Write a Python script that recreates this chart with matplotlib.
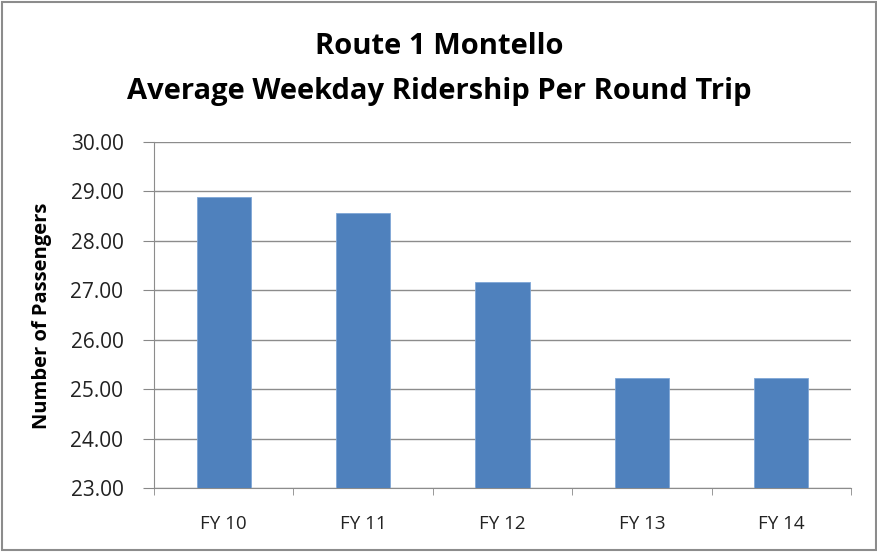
import matplotlib.pyplot as plt
from matplotlib.patches import Rectangle
import numpy as np

years = ['FY 10', 'FY 11', 'FY 12', 'FY 13', 'FY 14']
riders = [28.89, 28.57, 27.16, 25.22, 25.22]

plt.rcParams['font.family'] = ['Open Sans', 'DejaVu Sans']

fig = plt.figure(figsize=(8.78, 5.52), dpi=100)
ax = fig.add_axes([0.1754, 0.1154, 0.7938, 0.6274])

x = np.arange(len(years))
ax.bar(x, riders, width=0.39, color='#4f81bd', edgecolor='#7fa6d6', linewidth=0.6, zorder=3)

ax.set_ylim(23, 30)
ax.set_xlim(-0.5, len(years) - 0.5)
ax.set_yticks(np.arange(23, 31, 1))
ax.set_yticklabels(['%.2f' % v for v in np.arange(23, 31, 1)], fontsize=15, color='#222222')
ax.set_xticks(x)
ax.set_xticklabels(years, fontsize=13.5, color='#222222')
ax.set_xticks(np.arange(-0.5, len(years), 1), minor=True)
ax.tick_params(axis='x', which='major', length=0, pad=19)
ax.tick_params(axis='x', which='minor', length=5, color='#888888')
ax.tick_params(axis='y', length=8, color='#888888', pad=14)

ax.yaxis.grid(True, color='#8c8c8c', linewidth=1.0, zorder=0)
for s in ['top', 'right']:
    ax.spines[s].set_visible(False)
ax.spines['left'].set_color('#8c8c8c')
ax.spines['bottom'].set_color('#8c8c8c')

ax.set_ylabel('Number of Passengers', fontsize=14.5, fontweight='bold')
ax.yaxis.set_label_coords(-0.147, 0.4975)

fig.text(0.5, 0.915, 'Route 1 Montello', ha='center', va='center', fontsize=21, fontweight='bold')
fig.text(0.5, 0.835, 'Average Weekday Ridership Per Round Trip', ha='center', va='center',
         fontsize=21, fontweight='bold')

fig.patches.append(Rectangle((0.002, 0.003), 0.996, 0.994, transform=fig.transFigure,
                             fill=False, edgecolor='#8c8c8c', linewidth=1.5))

plt.savefig('out.png', dpi=100)
